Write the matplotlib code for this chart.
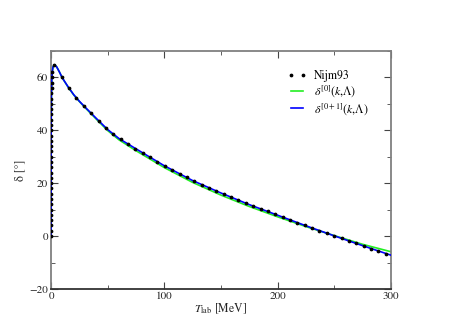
import matplotlib
matplotlib.use("Agg")
import matplotlib.pyplot as plt
from matplotlib.ticker import MultipleLocator

plt.rcParams['font.family'] = ['STIXGeneral', 'DejaVu Serif']
plt.rcParams['mathtext.fontset'] = 'stix'

# Nijm93 points: very low energy rise
t_low = [0.0, 0.00018, 0.00072, 0.00163, 0.0029, 0.0046, 0.0067, 0.0092, 0.0122,
         0.0157, 0.0198, 0.0245, 0.0299, 0.036, 0.043, 0.051, 0.060, 0.0706,
         0.0828, 0.0968, 0.1131, 0.1321, 0.1545, 0.1813, 0.2135, 0.2529,
         0.3024, 0.3655, 0.4484, 0.5631, 0.734, 1.03]
d_low = [0, 2, 4, 6, 8, 10, 12, 14, 16, 18, 20, 22, 24, 26, 28, 30, 32, 34,
         36, 38, 40, 42, 44, 46, 48, 50, 52, 54, 56, 58, 60, 62]

# Nijm93 points above the peak
t_nij = [3, 9.5, 16, 22.5, 29, 35.5, 42, 48.5, 55, 61.5, 68, 74.5, 81, 87.5, 94,
         100.5, 107, 113.5, 120, 126.5, 133, 139.5, 146, 152.5, 159, 165.5, 172,
         178.5, 185, 191.5, 198, 204.5, 211, 217.5, 224, 230.5, 237, 243.5, 250,
         256.5, 263, 269.5, 276, 282.5, 289, 295.5]
d_nij = [64.8, 60.2, 55.9, 52.2, 49.2, 46.4, 43.6, 40.9, 38.6, 36.6, 34.8, 33.1,
         31.5, 29.9, 28.2, 26.6, 25.1, 23.6, 22.2, 20.8, 19.5, 18.2, 17.0, 15.8,
         14.6, 13.5, 12.4, 11.3, 10.3, 9.3, 8.2, 7.2, 6.2, 5.1, 4.1, 3.1, 2.1,
         1.1, 0.1, -0.9, -1.9, -2.8, -3.8, -4.7, -5.7, -6.6]

# curves
t_curve = [1.8, 3, 5, 7.5, 10, 15, 20, 25, 30, 40, 50, 60, 75, 100, 125, 150,
           175, 200, 225, 250, 275, 300]
d_lo = [64.0, 64.8, 64.0, 62.0, 59.8, 56.4, 53.4, 50.9, 48.6, 44.2, 39.9, 36.4,
        32.3, 25.9, 20.3, 15.5, 11.2, 7.3, 3.6, 0.2, -3.1, -5.9]
d_nlo = [64.0, 64.8, 64.0, 62.0, 59.8, 56.5, 53.5, 51.0, 48.8, 44.5, 40.3, 36.9,
         33.0, 26.6, 21.0, 16.3, 11.9, 7.9, 3.9, 0.1, -3.6, -7.2]

fig = plt.figure(figsize=(4.68, 3.31), dpi=100)
ax = fig.add_axes([0.109, 0.127, 0.726, 0.719])

ax.plot(t_low + t_curve, d_low + d_lo, color='#22ee22', lw=1.2,
        label=r'$\delta^{[0]}(k{,}\Lambda)$', zorder=2)
ax.plot(t_low + t_curve, d_low + d_nlo, color='#0000ff', lw=1.2,
        label=r'$\delta^{[0+1]}(k{,}\Lambda)$', zorder=3)
ax.plot(t_low + t_nij, d_low + d_nij, ls='none', marker='o', ms=1.7,
        color='black', label='Nijm93', zorder=4)

ax.set_xlim(0, 300)
ax.set_ylim(-20, 70)
ax.xaxis.set_major_locator(MultipleLocator(100))
ax.xaxis.set_minor_locator(MultipleLocator(50))
ax.yaxis.set_major_locator(MultipleLocator(20))
ax.yaxis.set_minor_locator(MultipleLocator(10))
ax.tick_params(which='both', direction='in', top=True, right=True,
               labelsize=8, colors='#444444', labelcolor='#222222', pad=2)
ax.tick_params(which='major', length=5, width=0.8)
ax.tick_params(which='minor', length=3, width=0.6)
for s in ['left', 'top', 'right']:
    ax.spines[s].set_color('#808080')
    ax.spines[s].set_linewidth(1.3)
ax.spines['bottom'].set_color('#333333')
ax.spines['bottom'].set_linewidth(1.3)

ax.set_xlabel(r'$T_{\rm lab}$ [MeV]', fontsize=8.5, labelpad=0, color='#222222')
ax.set_ylabel('δ [°]', fontsize=8.5, labelpad=2, color='#222222')

h, l = ax.get_legend_handles_labels()
order = [2, 0, 1]
ax.legend([h[i] for i in order], [l[i] for i in order], loc='upper left',
          bbox_to_anchor=(0.665, 0.965), frameon=False, fontsize=8.5,
          numpoints=2, handlelength=1.6, handletextpad=0.6, labelspacing=0.12)

fig.savefig('out.png', dpi=100)
